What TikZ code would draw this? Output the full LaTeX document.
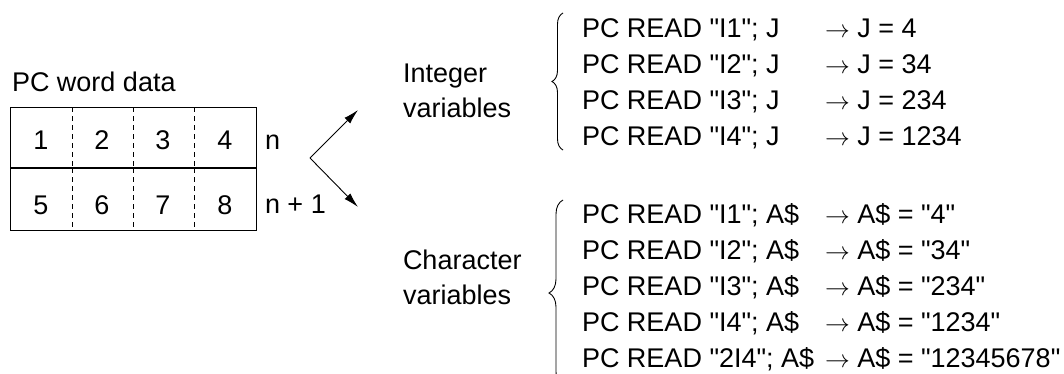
\documentclass[tikz,border=0pt]{standalone}
\usepackage{fontspec}
\setmainfont{Liberation Sans}[Ligatures=TeXOff]
\usetikzlibrary{arrows.meta,decorations.pathreplacing}
\begin{document}
\begin{tikzpicture}[x=1bp,y=-1bp,
  every node/.style={inner sep=0pt,outer sep=0pt,font=\fontsize{27bp}{32bp}\selectfont},
  lbl/.style={anchor=base west},
  cell/.style={anchor=base},
  rowbox/.style={draw,line width=1bp,minimum width=246bp,anchor=north west},
  dashln/.style={dash pattern=on 5bp off 4bp,line width=0.9bp},
  arr/.style={line width=0.9bp,-{Latex[length=15bp,width=8bp]}},
  brc/.style={decorate,decoration={brace,amplitude=#1},line width=0.9bp}
]
\useasboundingbox (0,0) rectangle (1064,373);

% PC word data
\node[lbl] (title) at (12,91) {PC word data};
\node[rowbox,minimum height=60bp] (row1) at (10,107) {};
\node[rowbox,minimum height=62bp] (row2) at (10.5,168) {};
\foreach \x in {72,133,194}{
  \draw[dashln] (\x,107) -- (\x,167);
  \draw[dashln] (\x,168) -- (\x,230);
}
\node[cell] (c1) at (41,149) {1};
\node[cell] (c2) at (102,149) {2};
\node[cell] (c3) at (163,149) {3};
\node[cell] (c4) at (225,149) {4};
\node[cell] (c5) at (41,214) {5};
\node[cell] (c6) at (102,214) {6};
\node[cell] (c7) at (163,214) {7};
\node[cell] (c8) at (225,214) {8};
\node[lbl] (n) at (265,149) {n};
\node[lbl] (n1) at (265,213) {n + 1};

% fork arrows
\coordinate (fork) at (310,158);
\coordinate (uptip) at (358,110);
\coordinate (dntip) at (358,207);
\draw[arr] (fork) -- (uptip);
\draw[arr] (fork) -- (dntip);

% Integer variables
\node[lbl] (int1) at (403,82) {Integer};
\node[lbl] (int2) at (403,117) {variables};
\draw[brc=11bp] (563,150) -- (563,13);
\node[lbl] (i1) at (582,37) {PC READ "I1"; J};
\node[lbl] (i2) at (582,73) {PC READ "I2"; J};
\node[lbl] (i3) at (582,109) {PC READ "I3"; J};
\node[lbl] (i4) at (582,145) {PC READ "I4"; J};
\node[lbl] (r1) at (825,37) {$\rightarrow$ J = 4};
\node[lbl] (r2) at (825,73) {$\rightarrow$ J = 34};
\node[lbl] (r3) at (825,109) {$\rightarrow$ J = 234};
\node[lbl] (r4) at (825,145) {$\rightarrow$ J = 1234};

% Character variables
\node[lbl] (ch1) at (403,269) {Character};
\node[lbl] (ch2) at (403,304) {variables};
\draw[brc=14bp] (563,386) -- (563,200);
\node[lbl] (a1) at (582,223) {PC READ "I1"; A\$};
\node[lbl] (a2) at (582,259) {PC READ "I2"; A\$};
\node[lbl] (a3) at (582,295) {PC READ "I3"; A\$};
\node[lbl] (a4) at (582,331) {PC READ "I4"; A\$};
\node[lbl] (a5) at (582,367) {PC READ "2I4"; A\$};
\node[lbl] (s1) at (825,223) {$\rightarrow$ A\$ = "4"};
\node[lbl] (s2) at (825,259) {$\rightarrow$ A\$ = "34"};
\node[lbl] (s3) at (825,295) {$\rightarrow$ A\$ = "234"};
\node[lbl] (s4) at (825,331) {$\rightarrow$ A\$ = "1234"};
\node[lbl] (s5) at (825,367) {$\rightarrow$ A\$ = "12345678"};
\end{tikzpicture}
\end{document}
